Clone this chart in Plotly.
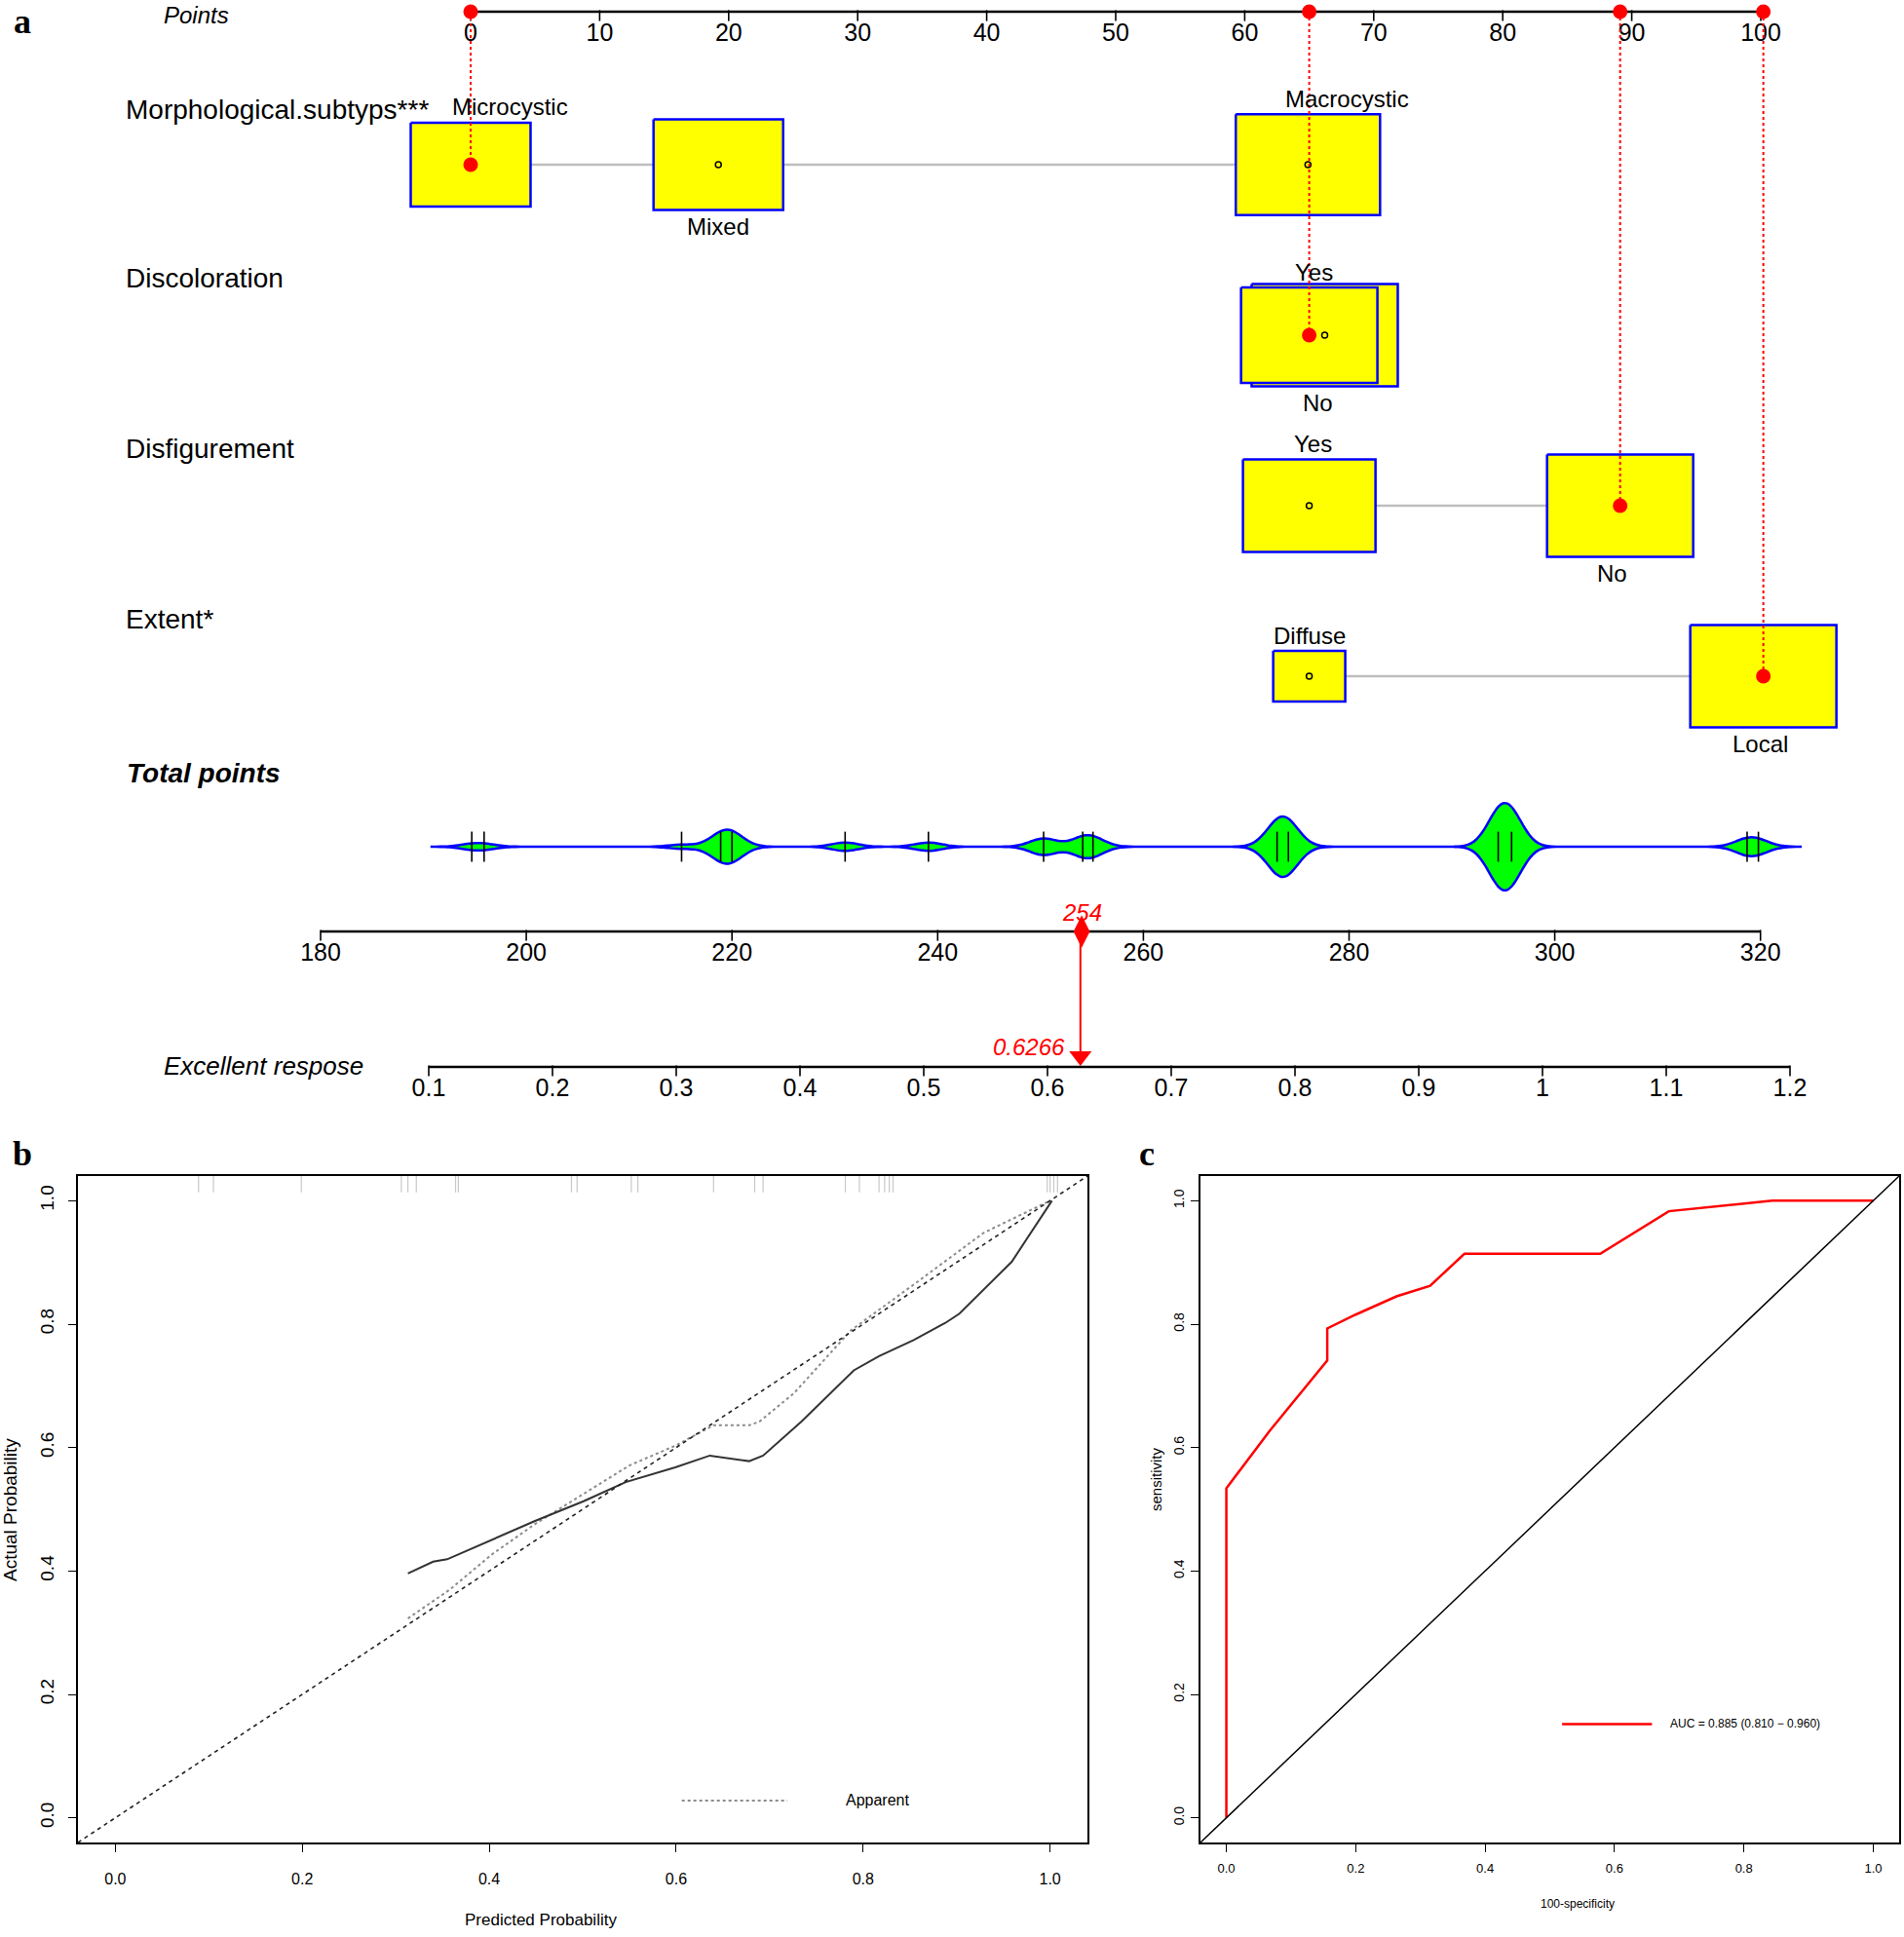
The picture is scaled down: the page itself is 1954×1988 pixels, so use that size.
import numpy as np
import plotly.graph_objects as go

# ======================= DATA =======================
# ---- Panel a: nomogram ----
points_ticks = [0, 10, 20, 30, 40, 50, 60, 70, 80, 90, 100]

var_names = ["Morphological.subtyps***", "Discoloration", "Disfigurement", "Extent*"]

morph_levels = ["Microcystic", "Mixed", "Macrocystic"]
morph_points = [0.0, 19.2, 64.9]
morph_freq = [0.82, 0.887, 0.987]          # relative box size

disc_levels = ["Yes", "No"]
disc_points = [65.0, 66.2]
disc_freq = [0.933, 1.0]

disf_levels = ["Yes", "No"]
disf_points = [65.0, 89.1]
disf_freq = [0.907, 1.0]

ext_levels = ["Diffuse", "Local"]
ext_points = [65.0, 100.2]
ext_freq = [0.493, 1.0]

patient_level = [0, 0, 1, 1]               # chosen level for each variable

total_ticks = [180, 200, 220, 240, 260, 280, 300, 320]
total_values = [194.7, 195.9, 215.1, 218.9, 220.0, 231.0, 239.1, 250.3,
                254.1, 255.1, 273.0, 274.1, 294.5, 295.8, 318.7, 319.8]
total_counts = [1, 1, 1, 4, 5, 2, 2, 4, 3, 3, 8, 8, 12, 12, 3, 2]
total_span = [190.8, 323.9]
patient_total = 254

prob_ticks = [0.1, 0.2, 0.3, 0.4, 0.5, 0.6, 0.7, 0.8, 0.9, 1.0, 1.1, 1.2]
prob_labels = ["0.1", "0.2", "0.3", "0.4", "0.5", "0.6", "0.7", "0.8", "0.9", "1", "1.1", "1.2"]
patient_prob = 0.6266

# ---- Panel b: calibration ----
cal_pred = [0.313, 0.340, 0.355, 0.403, 0.449, 0.501, 0.546, 0.599, 0.636, 0.678,
            0.693, 0.734, 0.790, 0.817, 0.854, 0.888, 0.903, 0.959, 1.002]
cal_bias = [0.396, 0.415, 0.419, 0.451, 0.481, 0.513, 0.544, 0.568, 0.587, 0.578,
            0.587, 0.642, 0.725, 0.748, 0.774, 0.802, 0.817, 0.901, 1.000]
app_pred = [0.313, 0.358, 0.403, 0.449, 0.501, 0.550, 0.599, 0.640, 0.678, 0.689,
            0.726, 0.787, 0.854, 0.929, 1.000]
app_actual = [0.323, 0.370, 0.427, 0.476, 0.525, 0.571, 0.603, 0.636, 0.636, 0.642,
              0.688, 0.790, 0.864, 0.948, 1.000]
rug_pred = [0.089, 0.105, 0.199, 0.306, 0.313, 0.322, 0.364, 0.367, 0.488, 0.494,
            0.552, 0.559, 0.640, 0.684, 0.693, 0.781, 0.796, 0.817, 0.823, 0.828,
            0.832, 0.997, 1.000, 1.004, 1.008]
prob_axis_ticks = [0.0, 0.2, 0.4, 0.6, 0.8, 1.0]
prob_axis_labels = ["0.0", "0.2", "0.4", "0.6", "0.8", "1.0"]

# ---- Panel c: ROC ----
roc_fpr = [0.0, 0.0, 0.067, 0.156, 0.156, 0.199, 0.263, 0.315, 0.368, 0.578, 0.684, 0.844, 1.0]
roc_tpr = [0.0, 0.534, 0.627, 0.741, 0.793, 0.815, 0.845, 0.862, 0.914, 0.914, 0.983, 1.0, 1.0]
auc_text = "AUC = 0.885 (0.810 \u2212 0.960)"

# ======================= LAYOUT CONSTANTS =======================
W, H = 1954, 1988
SANS = "Liberation Sans, Arial, sans-serif"
NARROW = "Liberation Sans Narrow, Arial Narrow, Liberation Sans, sans-serif"
SERIF = "Liberation Serif, Times New Roman, serif"

PX0, PPT = 483.0, 13.24           # points axis: pixel of 0, pixels per point
TOT_PX0, TOT_PPU = 329.0, 10.555  # total axis: pixel of 180, pixels per point
PROB_PX0, PROB_PPU = 440.0, 1270.0  # probability axis: pixel of 0.1, px per unit
NOMO_H = 1140.0

AX_Y = 12
ROW_Y = [169, 344, 519, 694]
VAR_LABEL_Y = [112, 285, 460, 635]
VIOLIN_Y = 869
TOT_AX_Y = 956
PROB_AX_Y = 1095
BOX_W, BOX_H = 150.0, 105.0
LABEL_DX = [[40, 0, 40], [5, -7], [4, -8], [0, -3]]

YELLOW, BLUE, RED = "#FFFF00", "#0000FF", "#FF0000"

fig = go.Figure()
annotations = []


def ann(text, x, y, xref="paper", yref="y", size=24, color="black", family=SANS,
        xanchor="center", yanchor="middle", angle=0, xshift=0):
    annotations.append(dict(text=text, x=x, y=y, xref=xref, yref=yref, showarrow=False,
                            font=dict(size=size, color=color, family=family),
                            xanchor=xanchor, yanchor=yanchor, textangle=angle,
                            xshift=xshift))


def draw_axis(xa, ticks, labels, y, size=25):
    fig.add_trace(go.Scatter(x=[ticks[0], ticks[-1]], y=[y, y], mode="lines",
                             line=dict(color="black", width=2.5), xaxis=xa, yaxis="y",
                             hoverinfo="skip", showlegend=False))
    fig.add_trace(go.Scatter(x=ticks, y=[y + 4] * len(ticks), mode="markers",
                             marker=dict(symbol="line-ns", size=8,
                                         line=dict(color="black", width=1.6)),
                             xaxis=xa, yaxis="y", hoverinfo="skip", showlegend=False))
    fig.add_trace(go.Scatter(x=ticks, y=[y + 24] * len(ticks), mode="text", text=labels,
                             textfont=dict(size=size, family=SANS, color="black"),
                             xaxis=xa, yaxis="y", hoverinfo="skip", showlegend=False))


# ---------------- Panel a ----------------
draw_axis("x", points_ticks, [str(t) for t in points_ticks], AX_Y)
ann("<i>Points</i>", 201 / W, 15, size=24)

variables = [
    (morph_levels, morph_points, morph_freq),
    (disc_levels, disc_points, disc_freq),
    (disf_levels, disf_points, disf_freq),
    (ext_levels, ext_points, ext_freq),
]

# connecting grey lines
for (levels, pts, freq), ry in zip(variables, ROW_Y):
    fig.add_trace(go.Scatter(x=[min(pts), max(pts)], y=[ry, ry], mode="lines",
                             line=dict(color="#BEBEBE", width=2.5), xaxis="x", yaxis="y",
                             hoverinfo="skip", showlegend=False))

# boxes (largest first)
for (levels, pts, freq), ry in zip(variables, ROW_Y):
    order = sorted(range(len(pts)), key=lambda i: -freq[i])
    for i in order:
        hw = freq[i] * BOX_W / 2 / PPT
        hh = freq[i] * BOX_H / 2
        fig.add_trace(go.Scatter(
            x=[pts[i] - hw, pts[i] + hw, pts[i] + hw, pts[i] - hw, pts[i] - hw],
            y=[ry - hh, ry - hh, ry + hh, ry + hh, ry - hh],
            mode="lines", fill="toself", fillcolor=YELLOW,
            line=dict(color=BLUE, width=2.5), xaxis="x", yaxis="y",
            hoverinfo="skip", showlegend=False))

# labels, center circles
for k, ((levels, pts, freq), ry) in enumerate(zip(variables, ROW_Y)):
    ann(var_names[k], 127 / W, VAR_LABEL_Y[k], size=28, xanchor="left")
    for i, lev in enumerate(levels):
        hh = freq[i] * BOX_H / 2
        ly = ry - hh - 16 if i % 2 == 0 else ry + hh + 17
        ann(lev, pts[i] + LABEL_DX[k][i] / PPT, ly, xref="x", size=24)
    unsel = [p for i, p in enumerate(pts) if i != patient_level[k]]
    fig.add_trace(go.Scatter(x=unsel, y=[ry] * len(unsel), mode="markers",
                             marker=dict(symbol="circle-open", size=6, color="black",
                                         line=dict(color="black", width=1.5)),
                             xaxis="x", yaxis="y", hoverinfo="skip", showlegend=False))

# red dotted lines and patient dots
sel_pts = [pts[patient_level[k]] for k, (levels, pts, freq) in enumerate(variables)]
for k, p in enumerate(sel_pts):
    fig.add_trace(go.Scatter(x=[p, p], y=[AX_Y, ROW_Y[k]], mode="lines",
                             line=dict(color=RED, width=2, dash="dot"), xaxis="x", yaxis="y",
                             hoverinfo="skip", showlegend=False))
fig.add_trace(go.Scatter(x=sel_pts + sel_pts, y=[AX_Y] * 4 + ROW_Y, mode="markers",
                         marker=dict(color=RED, size=15), xaxis="x", yaxis="y",
                         hoverinfo="skip", showlegend=False))

# total points violin
ann("<b><i>Total points</i></b>", 128 / W, 793, size=28, xanchor="left")
fig.add_trace(go.Violin(x=np.repeat(total_values, total_counts), y0=VIOLIN_Y, orientation="h",
                        xaxis="x2", yaxis="y", bandwidth=1.3, spanmode="manual",
                        span=total_span, width=89,
                        scalemode="width", side="both", fillcolor="#00FF00",
                        line=dict(color=BLUE, width=2.5), points=False,
                        box=dict(visible=False), meanline=dict(visible=False),
                        hoverinfo="skip", showlegend=False))
fig.add_trace(go.Scatter(x=total_values, y=[VIOLIN_Y] * len(total_values), mode="markers",
                         marker=dict(symbol="line-ns", size=22,
                                     line=dict(color="black", width=1.6)),
                         xaxis="x2", yaxis="y", hoverinfo="skip", showlegend=False))

draw_axis("x2", total_ticks, [str(t) for t in total_ticks], TOT_AX_Y)
fig.add_trace(go.Scatter(x=[patient_total], y=[TOT_AX_Y], mode="markers",
                         marker=dict(symbol="diamond-tall", size=24, color=RED),
                         xaxis="x2", yaxis="y", hoverinfo="skip", showlegend=False))
ann("<i>%d</i>" % patient_total, patient_total, 936, xref="x2", size=24, color=RED)

# arrow to probability axis
fig.add_trace(go.Scatter(x=[patient_prob, patient_prob], y=[TOT_AX_Y, PROB_AX_Y - 14],
                         mode="lines", line=dict(color=RED, width=2), xaxis="x3", yaxis="y",
                         hoverinfo="skip", showlegend=False))
fig.add_trace(go.Scatter(x=[patient_prob], y=[PROB_AX_Y - 11], mode="markers",
                         marker=dict(symbol="triangle-down", size=20, color=RED),
                         xaxis="x3", yaxis="y", hoverinfo="skip", showlegend=False))
ann("<i>%.4f</i>" % patient_prob, patient_prob, PROB_AX_Y - 21, xref="x3", size=24,
    color=RED, xanchor="right", xshift=-14)

draw_axis("x3", prob_ticks, prob_labels, PROB_AX_Y)
ann("<i>Excellent respose</i>", 270 / W, PROB_AX_Y - 1, size=26)
ann("<b>a</b>", 23 / W, 22, size=36, family=SERIF)

# ---------------- Panel b ----------------
fig.add_trace(go.Scatter(x=rug_pred, y=[1.029] * len(rug_pred), mode="markers",
                         marker=dict(symbol="line-ns", size=14,
                                     line=dict(color="#C8C8C8", width=1.2)),
                         xaxis="x4", yaxis="y4", hoverinfo="skip", showlegend=False))
fig.add_trace(go.Scatter(x=app_pred, y=app_actual, mode="lines",
                         line=dict(color="#8C8C8C", width=2, dash="dot"),
                         xaxis="x4", yaxis="y4", hoverinfo="skip", showlegend=False))
fig.add_trace(go.Scatter(x=cal_pred, y=cal_bias, mode="lines",
                         line=dict(color="#333333", width=2),
                         xaxis="x4", yaxis="y4", hoverinfo="skip", showlegend=False))
# legend
fig.add_trace(go.Scatter(x=[0.606, 0.719], y=[0.028, 0.028], mode="lines",
                         line=dict(color="#8C8C8C", width=2, dash="dot"),
                         xaxis="x4", yaxis="y4", hoverinfo="skip", showlegend=False))
ann("Apparent", 0.779, 0.028, xref="x4", yref="y4", size=16, family=NARROW, xanchor="left")
ann("<b>b</b>", 23 / W, 1 - 1184 / H, yref="paper", size=36, family=SERIF)
ann("Predicted Probability", 555 / W, 1 - 1970 / H, yref="paper", size=17, family=NARROW)
ann("Actual Probability", 10 / W, 1 - 1550 / H, yref="paper", size=19, angle=-90)

# ---------------- Panel c ----------------
fig.add_trace(go.Scatter(x=roc_fpr, y=roc_tpr, mode="lines",
                         line=dict(color=RED, width=2.5),
                         xaxis="x5", yaxis="y5", hoverinfo="skip", showlegend=False))
fig.add_trace(go.Scatter(x=[0.519, 0.658], y=[0.152, 0.152], mode="lines",
                         line=dict(color=RED, width=2.5),
                         xaxis="x5", yaxis="y5", hoverinfo="skip", showlegend=False))
ann(auc_text, 0.683, 0.152, xref="x5", yref="y5", size=12, family=NARROW, xanchor="left")
ann("<b>c</b>", 1177 / W, 1 - 1184 / H, yref="paper", size=36, family=SERIF)
ann("100-specificity", 1619 / W, 1 - 1954 / H, yref="paper", size=12, family=NARROW)
ann("sensitivity", 1186 / W, 1 - 1518 / H, yref="paper", size=15, angle=-90)

shapes = [
    dict(type="line", xref="x4 domain", yref="y4 domain", x0=0, y0=0, x1=1, y1=1,
         line=dict(color="#222222", width=1.6, dash="4px,4px")),
    dict(type="line", xref="x5 domain", yref="y5 domain", x0=0, y0=0, x1=1, y1=1,
         line=dict(color="black", width=1.5)),
]


def frame_axis(domain, anchor, fs, standoff, family=SANS, angle=0):
    return dict(domain=domain, anchor=anchor, range=[-0.04, 1.04], showline=True,
                mirror=True, linecolor="black", linewidth=1.5, ticks="outside",
                ticklen=8, tickwidth=1.2, tickcolor="black", showgrid=False,
                zeroline=False, tickvals=prob_axis_ticks, ticktext=prob_axis_labels,
                tickfont=dict(size=fs, family=family, color="black"),
                ticklabelstandoff=standoff, tickangle=angle, fixedrange=True)


def hidden_x(px0, ppu, v0, overlay=None):
    d = dict(domain=[0, 1], range=[v0 - px0 / ppu, v0 + (W - px0) / ppu], visible=False,
             anchor="y", showgrid=False, zeroline=False, fixedrange=True)
    if overlay:
        d["overlaying"] = overlay
    return d


fig.update_layout(
    width=W, height=H, margin=dict(l=0, r=0, t=0, b=0),
    paper_bgcolor="white", plot_bgcolor="rgba(0,0,0,0)", showlegend=False,
    xaxis=hidden_x(PX0, PPT, 0),
    xaxis2=hidden_x(TOT_PX0, TOT_PPU, 180, "x"),
    xaxis3=hidden_x(PROB_PX0, PROB_PPU, 0.1, "x"),
    yaxis=dict(domain=[1 - NOMO_H / H, 1], range=[NOMO_H, 0], visible=False, anchor="x",
               fixedrange=True),
    xaxis4=frame_axis([80 / W, 1116 / W], "y4", 16, 14, NARROW),
    yaxis4=frame_axis([1 - 1891 / H, 1 - 1207 / H], "x4", 19, 8, SANS, -90),
    xaxis5=frame_axis([1232 / W, 1949 / W], "y5", 13, 6, NARROW),
    yaxis5=frame_axis([1 - 1891 / H, 1 - 1207 / H], "x5", 14, 2, SANS, -90),
    annotations=annotations,
    shapes=shapes,
)

fig.write_html("out.html", config={"displayModeBar": False},
               post_script="document.body.style.margin='0';")
